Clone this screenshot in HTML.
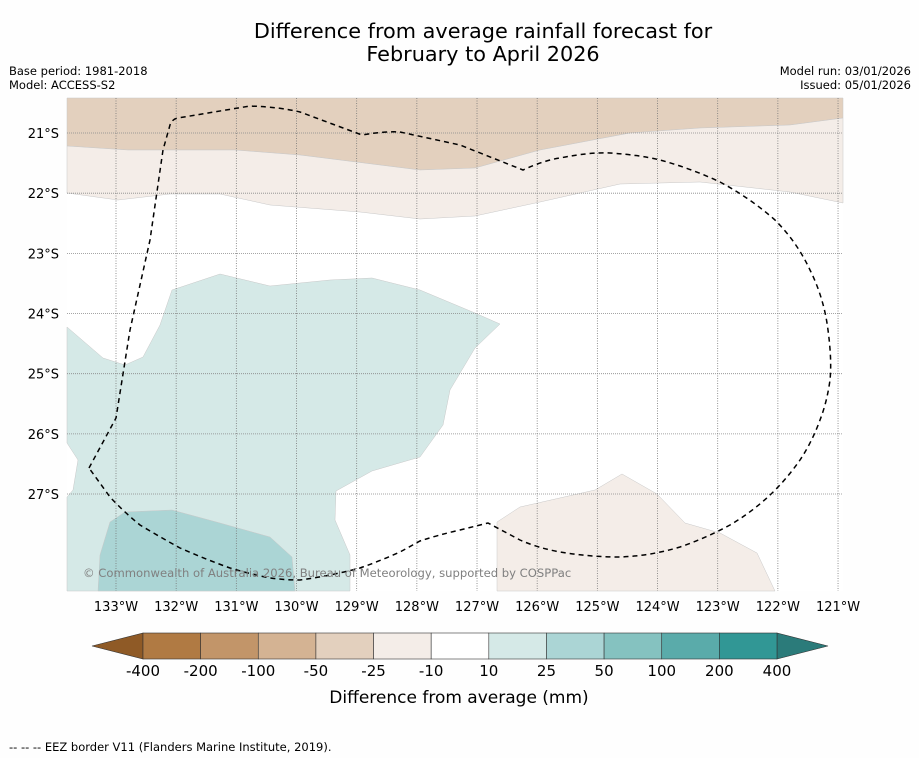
<!DOCTYPE html>
<html><head><meta charset="utf-8"><style>
body{margin:0;background:#fefefe;font-family:"DejaVu Sans","Liberation Sans",sans-serif;}
svg{display:block}
</style></head><body>
<svg width="919" height="758" xmlns="http://www.w3.org/2000/svg">
<rect width="919" height="758" fill="#fefefe"/>
<text x="483" y="38" font-size="20.8" text-anchor="middle">Difference from average rainfall forecast for</text>
<text x="483" y="61" font-size="20.8" text-anchor="middle">February to April 2026</text>
<text x="9" y="75" font-size="11.5">Base period: 1981-2018</text>
<text x="9" y="89" font-size="11.5">Model: ACCESS-S2</text>
<text x="911" y="75" font-size="11.5" text-anchor="end">Model run: 03/01/2026</text>
<text x="911" y="89" font-size="11.5" text-anchor="end">Issued: 05/01/2026</text>
<g id="map"></g>
<g id="cbar"></g>
<text x="459" y="703" font-size="17" text-anchor="middle">Difference from average (mm)</text>
<text x="9" y="751" font-size="11.5">--  --  -- EEZ border V11 (Flanders Marine Institute, 2019).</text>
</svg>
<script>
const levels=["-400","-200","-100","-50","-25","-10","10","25","50","100","200","400"];
const colors=["#b07a43","#c29569","#d4b393","#e3d0be","#f4ede8","#ffffff","#d5e9e7","#abd5d5","#85c2c0","#5aabaa","#319795"];
const lonTicks=[133,132,131,130,129,128,127,126,125,124,123,122,121];
const latTicks=[21,22,23,24,25,26,27];
const NS="http://www.w3.org/2000/svg";
const X0=67,X1=843,Y0=98,Y1=591,PX=60.17;
function xLon(l){return 116+(133-l)*PX;}
function yLat(l){return 133+(l-21)*PX;}
const map=document.getElementById('map');
function mk(tag,attrs,parent){const e=document.createElementNS(NS,tag);for(const k in attrs)e.setAttribute(k,attrs[k]);parent.appendChild(e);return e;}
mk('rect',{x:X0,y:Y0,width:X1-X0,height:Y1-Y0,fill:'#fff'},map);
const regions=[
 {c:colors[3],n:'region-minus50',p:"67,98 843,98 843,118 790,125 700,128 630,133 540,150 475,168 420,170 300,155 235,150 128,150 67,146"},
 {c:colors[4],n:'region-minus25-north',p:"67,146 128,150 235,150 300,155 420,170 475,168 540,150 630,133 700,128 790,125 843,118 843,203 790,192 700,182 620,184 540,202 475,216 420,219 360,212 270,205 220,194 170,194 118,200 67,193"},
 {c:colors[6],n:'region-plus10',p:"67,327 103,358 125,365 143,357 160,325 172,290 220,274 270,286 330,280 372,278 420,290 475,313 500,324 475,348 450,390 443,425 420,457 372,471 336,491 335,520 350,555 350,591 67,591 67,497 73,490 78,460 67,443"},
 {c:colors[7],n:'region-plus25',p:"110,522 125,512 172,510 220,523 270,537 292,557 295,591 98,591 100,555"},
 {c:colors[4],n:'region-minus25-south',p:"497,591 497,522 520,507 595,490 622,474 657,494 685,523 720,533 757,553 775,591"}
];
regions.forEach(r=>{const e=mk('polygon',{points:r.p,fill:r.c,stroke:'#c8c8c8','stroke-width':0.5},map);

});
lonTicks.forEach(l=>{const x=xLon(l);
 const g=mk('line',{x1:x,y1:Y0,x2:x,y2:Y1,stroke:'#777','stroke-width':0.8,'stroke-dasharray':'1,1.5'},map);
 
 
 const t=mk('text',{x:x,y:611,'font-size':13,'text-anchor':'middle'},map);t.textContent=l+'°W';
 
 });
latTicks.forEach(l=>{const y=yLat(l);
 const g=mk('line',{x1:X0,y1:y,x2:X1,y2:y,stroke:'#888','stroke-width':0.8,'stroke-dasharray':'1,1'},map);
 
 
 const t=mk('text',{x:59,y:y+5,'font-size':13,'text-anchor':'end'},map);t.textContent=l+'°S';
 
 });
const eez=mk('path',{d:"M89,468 L116,418 L130,330 L150,240 L163,150 L170,125 Q172,119 178,118 L250,106 Q280,107 300,112 L362,135 Q385,131 400,132 L460,145 L523,170 Q545,160 560,158 Q590,152 610,153 Q640,155 660,160 Q690,168 720,182 Q750,198 775,220 Q797,242 810,270 Q824,298 828,330 Q832,360 830,380 Q827,402 820,420 Q812,442 800,460 Q786,480 770,495 Q752,512 730,525 Q706,538 680,547 Q650,556 620,557 Q590,557 560,552 Q538,548 520,540 L488,523 L460,530 Q438,535 420,541 L400,552 Q380,561 360,568 Q330,576 300,580 Q285,580 270,578 Q250,574 230,568 Q205,559 180,548 Q160,537 140,525 Q124,512 110,497 Z",fill:'none',stroke:'#000','stroke-width':1.5,'stroke-dasharray':'5,4'},map);


const cr=mk('text',{x:83,y:577,'font-size':11.6,fill:'#808080'},map);cr.textContent='© Commonwealth of Australia 2026, Bureau of Meteorology, supported by COSPPac';


const cb=document.getElementById('cbar');
const CX0=143,CX1=777,CY0=633,CY1=659,n=colors.length,w=(CX1-CX0)/n;
const la=mk('polygon',{points:`92,646 ${CX0},${CY0} ${CX0},${CY1}`,fill:'#8f5a26',stroke:'#333','stroke-width':0.6},cb);


const ra=mk('polygon',{points:`828,646 ${CX1},${CY0} ${CX1},${CY1}`,fill:'#2b7b7a',stroke:'#333','stroke-width':0.6},cb);


colors.forEach((c,i)=>{const r=mk('rect',{x:CX0+i*w,y:CY0,width:w,height:CY1-CY0,fill:c,stroke:'#333','stroke-width':0.6},cb);
 
 });
levels.forEach((l,i)=>{const t=mk('text',{x:CX0+i*w,y:676,'font-size':15,'text-anchor':'middle'},cb);t.textContent=l;
 
 });
</script>
</body></html>
